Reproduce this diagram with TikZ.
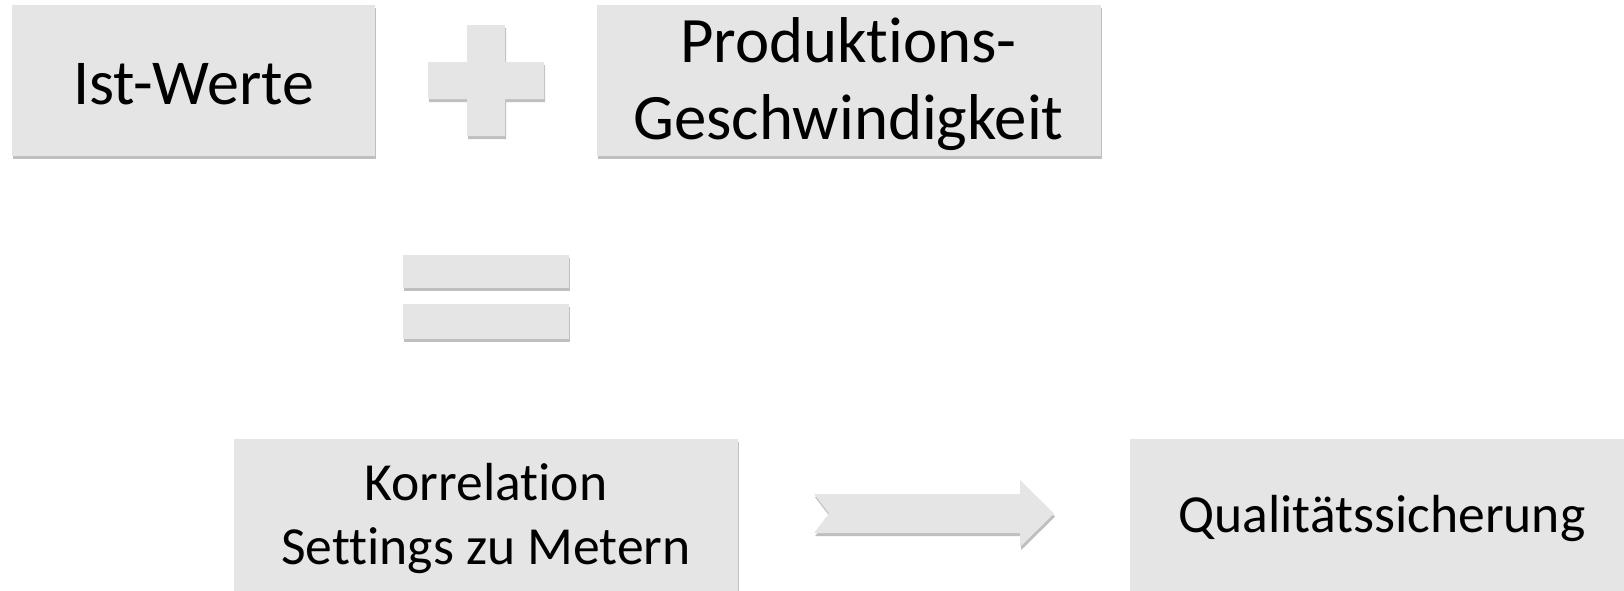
\documentclass[tikz,border=0pt]{standalone}
\usepackage{fontspec}
\setmainfont{Carlito}[Ligatures=NoCommon]
\usetikzlibrary{shadows}

\begin{document}
\begin{tikzpicture}[
    x=0.5pt, y=-0.5pt,
    shade/.style={drop shadow={shadow xshift=0.5pt, shadow yshift=-1.6pt, fill=black, opacity=0.25}},
    box/.style={fill=black!10, draw=none, shade, inner sep=0pt,
        minimum width=252pt, minimum height=76pt},
    boxtext/.style={align=center, yshift=-2pt},
    bigtext/.style={font=\fontsize{32}{38.5}\selectfont},
    smalltext/.style={font=\fontsize{26.8}{32}\selectfont},
    sign/.style={fill=black!10, shade}
    ]

    \useasboundingbox (0,0) rectangle (1624,590);

    % inputs
    \node[box, minimum width=181.3pt, minimum height=75.5pt,
        label={[boxtext, bigtext]center:Ist-Werte}] (ist) at (193.7,80.5) {};
    \node[box, minimum height=75.5pt,
        label={[boxtext, font=\fontsize{32.4}{38.5}\selectfont]center:Produktions-\\Geschwindigkeit}] (speed) at (848.5,80.5) {};

    % plus
    \path[sign] (467,25) -- (505,25) -- (505,62) -- (544,62) -- (544,99) -- (505,99)
        -- (505,136) -- (467,136) -- (467,99) -- (428,99) -- (428,62) -- (467,62) -- cycle;

    % equals
    \path[sign] (403,255) rectangle (569,288);
    \path[sign] (403,304) rectangle (569,339);

    % result
    \node[box, label={[boxtext, smalltext]center:Korrelation\\Settings zu Metern}] (korr) at (486,514.5) {};
    \node[box, label={[boxtext, smalltext]center:Qualitätssicherung}] (qs) at (1382,514.5) {};

    \path[sign] (814,494) -- (1020,494) -- (1020,480) -- (1054,513.5) -- (1020,547)
        -- (1020,533) -- (814,533) -- (829,513.5) -- cycle;

\end{tikzpicture}
\end{document}
